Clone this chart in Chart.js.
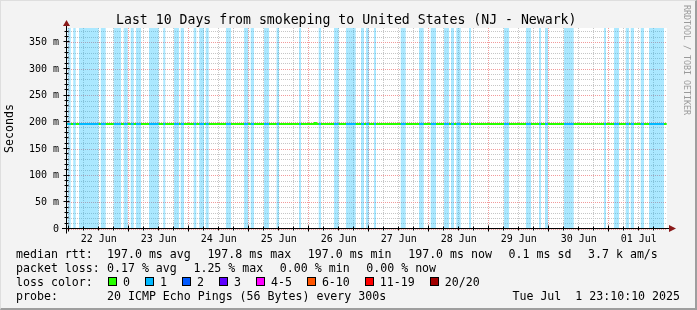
<!DOCTYPE html>
<html><head><meta charset="utf-8">
<script src="https://cdn.jsdelivr.net/npm/chart.js@4.4.1/dist/chart.umd.min.js"></script>
<style>
html,body{margin:0;padding:0;}
body{width:697px;height:310px;background:#f3f3f3;position:relative;overflow:hidden;font-family:"DejaVu Sans Mono",monospace;color:#000;}
#frame{position:absolute;left:0;top:0;width:697px;height:310px;box-sizing:border-box;border-style:solid;border-width:1px 2px 2px 1px;border-color:#dedede #9e9e9e #9e9e9e #dedede;pointer-events:none;}
canvas{position:absolute;left:0;top:0;}
.t{position:absolute;white-space:pre;line-height:14px;font-size:11.6px;}
.title{position:absolute;white-space:pre;line-height:16px;font-size:13.2px;left:116px;top:11.5px;}
.side{position:absolute;left:682px;top:5px;writing-mode:vertical-rl;font-size:8.3px;line-height:10px;color:#9a9a9a;white-space:pre;}
.box{position:absolute;width:7px;height:7px;border:1px solid #000;top:277px;}
</style>
</head><body>
<canvas id="c" width="697" height="310"></canvas>
<div class="title">Last 10 Days from smokeping to United States (NJ - Newark)</div>
<div class="side">RRDTOOL / TOBI OETIKER</div>
<div id="legend"></div>
<div id="frame"></div>
<script>
// ---- data ----
// time axis in day units (Jun 22 00:00 = 22, Jul 1 00:00 = 31)
const xMin = 21.97, xMax = 31.97;
const yMax = 377; // ms
const dayTickTimes = [22.5, 23.5, 24.5, 25.5, 26.5, 27.5, 28.5, 29.5, 30.5, 31.5];
const dayLabels = ['22 Jun','23 Jun','24 Jun','25 Jun','26 Jun','27 Jun','28 Jun','29 Jun','30 Jun','01 Jul'];
const yLabelValues = [0, 50, 100, 150, 200, 250, 300, 350];
// periods with packet loss (loss colour "1")
const lossStart = [21.975,22.075,22.170,22.532,22.748,22.915,23.032,23.120,23.337,23.575,23.753,23.865,24.082,24.175,24.282,24.620,24.920,25.032,25.253,25.462,25.837,26.165,26.420,26.620,26.870,26.953,27.087,27.532,27.837,28.032,28.253,28.370,28.458,28.670,29.253,29.620,29.837,29.937,30.253,30.920,31.087,31.282,31.365,31.532,31.670];
const lossEnd   = [22.032,22.115,22.498,22.615,22.870,22.982,23.082,23.203,23.498,23.608,23.837,23.920,24.125,24.253,24.332,24.703,24.992,25.087,25.337,25.503,25.870,26.203,26.498,26.782,26.920,27.003,27.120,27.615,27.915,28.120,28.337,28.420,28.532,28.703,29.337,29.703,29.870,29.987,30.415,30.953,31.170,31.337,31.420,31.587,31.920];
// median rtt (ms)
const medianTimes = [21.97, 26.085, 26.100, 26.118, 31.965];
const medianRtt   = [197.0, 197.0, 199.0, 197.0, 197.0];

// legend statistics
const rttStats  = ['197.0 ms avg','197.8 ms max','197.0 ms min','197.0 ms now','0.1 ms sd','3.7 k am/s'];
const lossStats = ['0.17 % avg','1.25 % max','0.00 % min','0.00 % now'];
const lossColors = ['#26ff00','#00b8ff','#0059ff','#5e00ff','#ff00ff','#ff5500','#ff0000','#a10000'];
const lossColorLabels = ['0','1','2','3','4-5','6-10','11-19','20/20'];
const probeText = '20 ICMP Echo Pings (56 Bytes) every 300s';
const stampText = 'Tue Jul  1 23:10:10 2025';

// ---- legend (HTML text) ----
const CH = 6.983, GAP = 16.6;
const lg = document.getElementById('legend');
function addText(txt,x,y){const d=document.createElement('div');d.className='t';d.style.left=x+'px';d.style.top=y+'px';d.textContent=txt;lg.appendChild(d);return d;}
function addRow(label,items,y){addText(label,16,y);let x=107;items.forEach(s=>{addText(s,x,y);x+=s.length*CH+GAP;});}
addRow('median rtt:',rttStats,246.5);
addRow('packet loss:',lossStats,260.5);
addText('loss color:',16,274.5);
(()=>{let x=108;lossColorLabels.forEach((lab,i)=>{
  const b=document.createElement('div');b.className='box';b.style.left=x+'px';b.style.background=lossColors[i];lg.appendChild(b);
  addText(lab,x+15,274.5);x+=15+lab.length*CH+15;
});})();
addText('probe:',16,288.5);addText(probeText,107,288.5);
(()=>{const d=addText(stampText,0,288.5);d.style.left='';d.style.right='17px';})();

// ---- datasets ----
const bandData = [];
lossStart.forEach((s,i)=>{const e=lossEnd[i];bandData.push({x:s,y:0},{x:s,y:yMax},{x:e,y:yMax},{x:e,y:0});});
function medianAt(t){let v=medianRtt[0];for(let i=0;i<medianTimes.length;i++){if(medianTimes[i]<=t)v=medianRtt[i];}return v;}
const medianData = medianTimes.map((t,i)=>({x:t,y:medianRtt[i]}));
const lossLine = [];
lossStart.forEach((s,i)=>{const e=lossEnd[i];lossLine.push({x:s,y:medianAt(s)},{x:e,y:medianAt(s)},{x:e,y:null});});

const xGrid=[];for(let d=22;d<32;d+=0.25)xGrid.push(d);
const yGrid=[];for(let v=0;v<=370;v+=10)yGrid.push(v);
const GRID='#c6c6c6', MGRID='#f29a9a', FONT='DejaVu Sans Mono';

const axesPlugin={
  id:'axes',
  beforeDraw(chart){const {ctx,chartArea:a}=chart;ctx.save();ctx.fillStyle='#fff';ctx.fillRect(a.left,a.top,a.right-a.left,a.bottom-a.top);ctx.restore();},
  afterDatasetsDraw(chart){
    const {ctx,chartArea:a,scales:{x,y}}=chart;
    const y0=Math.round(y.getPixelForValue(0))-0.5, x0=a.left-0.5;
    ctx.save();ctx.strokeStyle='#000';ctx.lineWidth=1;
    ctx.beginPath();ctx.moveTo(62,y0);ctx.lineTo(a.right+3,y0);ctx.moveTo(x0,y0+5);ctx.lineTo(x0,a.top-2);ctx.stroke();
    ctx.beginPath();
    yGrid.forEach(v=>{const p=Math.round(y.getPixelForValue(v))-0.5;const l=v%50===0?3:2;ctx.moveTo(x0-l,p);ctx.lineTo(x0+l,p);});
    xGrid.forEach(v=>{const p=Math.round(x.getPixelForValue(v))-0.5;const l=Math.abs(v-Math.round(v))<1e-6?3:2;ctx.moveTo(p,y0-l);ctx.lineTo(p,y0+l);});
    ctx.stroke();
    ctx.fillStyle='#8a1a1a';
    ctx.beginPath();ctx.moveTo(x0,a.top-8);ctx.lineTo(x0-3.5,a.top-2);ctx.lineTo(x0+3.5,a.top-2);ctx.closePath();ctx.fill();
    ctx.beginPath();ctx.moveTo(a.right+9,y0);ctx.lineTo(a.right+2,y0-3.5);ctx.lineTo(a.right+2,y0+3.5);ctx.closePath();ctx.fill();
    ctx.restore();
  }
};

new Chart(document.getElementById('c'),{
  type:'line',
  data:{datasets:[
    {label:'loss median',data:lossLine,borderColor:'#00b8ff',borderWidth:2,pointRadius:0,fill:false,spanGaps:false,order:0},
    {label:'median rtt',data:medianData,borderColor:'#26ff00',borderWidth:2,pointRadius:0,fill:false,stepped:true,order:1},
    {label:'loss',data:bandData,borderWidth:0,borderColor:'rgba(0,0,0,0)',backgroundColor:'rgba(0,184,255,0.33)',pointRadius:0,fill:'origin',tension:0,order:2}
  ]},
  options:{
    responsive:false,animation:false,devicePixelRatio:1,
    layout:{padding:{left:0,right:30,top:28,bottom:0}},
    plugins:{legend:{display:false},tooltip:{enabled:false}},
    scales:{
      x:{type:'linear',min:xMin,max:xMax,
        afterBuildTicks:s=>{s.ticks=xGrid.map(v=>({value:v}));},
        afterFit:s=>{s.height=81;},
        grid:{drawTicks:false,lineWidth:1,color:c=>Math.abs(c.tick.value-Math.round(c.tick.value))<1e-6?MGRID:GRID},
        border:{display:false,dash:[1,1]},
        ticks:{autoSkip:false,maxRotation:0,padding:4,color:'#000',font:{family:FONT,size:10},
          callback:v=>{const i=dayTickTimes.findIndex(t=>Math.abs(t-v)<1e-6);return i>=0?dayLabels[i]:'';}}
      },
      y:{min:0,max:yMax,
        afterBuildTicks:s=>{s.ticks=yGrid.map(v=>({value:v}));},
        afterFit:s=>{s.width=67;},
        grid:{drawTicks:false,lineWidth:1,color:c=>c.tick.value%50===0?MGRID:GRID},
        border:{display:false,dash:[1,1]},
        title:{display:true,text:'Seconds',color:'#000',font:{family:FONT,size:11.6},padding:{top:3,bottom:0}},
        ticks:{autoSkip:false,padding:8,color:'#000',font:{family:FONT,size:10},
          callback:v=>yLabelValues.includes(v)?(v===0?'0':v+' m'):''}
      }
    }
  },
  plugins:[axesPlugin]
});
</script>
</body></html>
